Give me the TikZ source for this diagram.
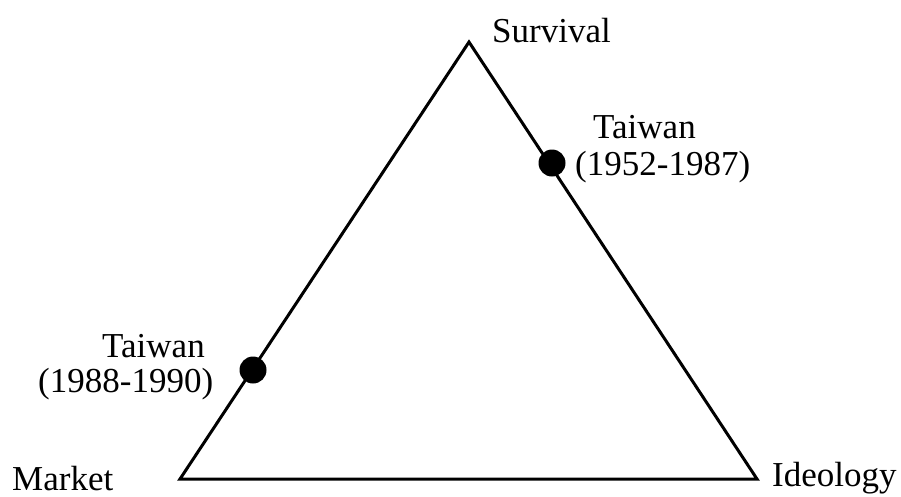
\documentclass[tikz,border=0pt]{standalone}
\usepackage{fontspec}
\setmainfont{Liberation Serif}
\begin{document}
\begin{tikzpicture}[x=1pt,y=-1pt,
  lbl/.style={inner sep=0pt, anchor=base west, font=\fontsize{35}{40}\selectfont},
  dotmark/.style={circle, fill=black, inner sep=0pt, minimum size=27pt},
  edge/.style={line width=3pt, line join=miter}]
\useasboundingbox (0,0) rectangle (901,496);
\coordinate (S) at (469,42);
\coordinate (M) at (180,479);
\coordinate (I) at (757,479);
\draw[edge] (S) -- (I) -- (M) -- cycle;
\node[dotmark] (d1) at (552,163) {};
\node[dotmark] (d2) at (253,370) {};
\node[lbl] (ts) at (492,42) {Survival};
\node[lbl] (tm) at (12,490) {Market};
\node[lbl] (ti) at (772,486) {Ideology};
\node[lbl] (r1) at (593,138) {Taiwan};
\node[lbl] (r2) at (575,175) {(1952-1987)};
\node[lbl] (l1) at (102,357) {Taiwan};
\node[lbl] (l2) at (38,392) {(1988-1990)};
\end{tikzpicture}
\end{document}
